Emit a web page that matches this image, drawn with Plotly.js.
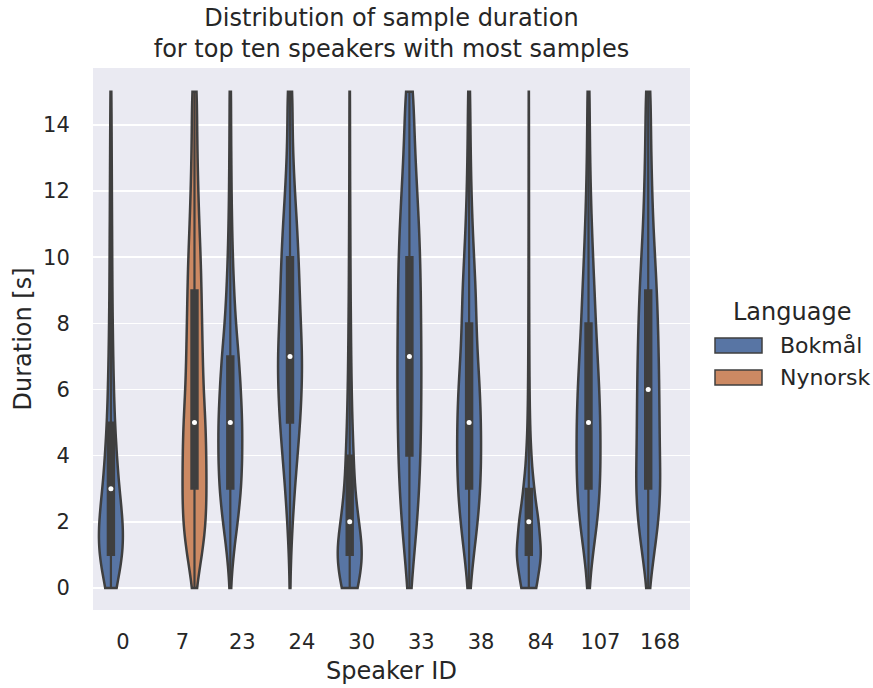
<!DOCTYPE html>
<html>
<head>
<meta charset="utf-8">
<script src="https://cdn.plot.ly/plotly-3.0.1.min.js"></script>
<style>html,body{margin:0;padding:0;background:#ffffff;}</style>
</head>
<body>
<div id="chart" style="width:873px;height:688px;"></div>
<script>
// ---------------- data ----------------
const speakers  = ['0', '7', '23', '24', '30', '33', '38', '84', '107', '168'];
const languages = ['Bokmål', 'Nynorsk', 'Bokmål', 'Bokmål', 'Bokmål', 'Bokmål', 'Bokmål', 'Bokmål', 'Bokmål', 'Bokmål'];
const languageOrder = ['Bokmål', 'Nynorsk'];
// durations in whole seconds (0..15) and estimated number of samples at each duration
const durationBins = [0, 1, 2, 3, 4, 5, 6, 7, 8, 9, 10, 11, 12, 13, 14, 15];
const counts_0   = [150, 400, 380, 250, 180, 120,  90,  70,  55,  45,  40,  35,  30,  25,  20,  15];
const counts_7   = [ 20, 160, 240, 240, 235, 225, 175, 165, 150, 140, 125,  95,  75,  60,  50,  55];
const counts_23  = [ 10,  60, 150, 220, 240, 240, 210, 170, 110,  75,  50,  35,  25,  20,  15,  15];
const counts_24  = [  5,  20,  50,  90, 140, 190, 220, 230, 200, 180, 160, 130,  90,  60,  45,  50];
const counts_30  = [280, 480, 300, 170, 130,  90,  65,  50,  40,  30,  25,  20,  15,  12,  10,   8];
const counts_33  = [ 30,  80, 130, 165, 185, 195, 200, 200, 195, 190, 180, 160, 130, 100,  80,  70];
const counts_38  = [ 20,  90, 170, 220, 235, 230, 210, 165, 140, 130,  95,  65,  45,  32,  25,  20];
const counts_84  = [250, 420, 320, 170,  80,  40,  25,  18,  14,  11,   9,   7,   6,   5,   4,   3];
const counts_107 = [ 15,  80, 180, 230, 240, 235, 215, 180, 145, 120,  90,  65,  45,  32,  25,  22];
const counts_168 = [ 20, 110, 200, 240, 220, 215, 210, 200, 185, 165, 130,  95,  75,  60,  50,  50];
const speakerCounts = [counts_0, counts_7, counts_23, counts_24, counts_30, counts_33, counts_38, counts_84, counts_107, counts_168];

// ---------------- styles ----------------
const langColors = {'Bokmål': '#5875a4', 'Nynorsk': '#cc8963'};
const edgeColor = '#3f3f3f';
const textColor = '#262626';
const fontFamily = 'DejaVu Sans, Verdana, sans-serif';

// expand counts to individual samples
function expand(counts) {
  const out = [];
  counts.forEach((c, i) => { for (let k = 0; k < c; k++) out.push(durationBins[i]); });
  return out;
}
function median(arr) {
  const s = arr.slice().sort((a, b) => a - b);
  const pos = (s.length - 1) * 0.5;
  const lo = Math.floor(pos), hi = Math.ceil(pos);
  return s[lo] + (s[hi] - s[lo]) * (pos - lo);
}
// Scott's rule bandwidth (as used by seaborn's violinplot)
function scottBandwidth(arr) {
  const n = arr.length;
  const m = arr.reduce((a, b) => a + b, 0) / n;
  const sd = Math.sqrt(arr.reduce((a, b) => a + (b - m) * (b - m), 0) / (n - 1));
  return sd * Math.pow(n, -0.2);
}

const traces = [];
const medX = {'Bokmål': [], 'Nynorsk': []};
const medY = {'Bokmål': [], 'Nynorsk': []};
speakers.forEach((sp, i) => {
  const lang = languages[i];
  const samples = expand(speakerCounts[i]);
  traces.push({
    type: 'violin', name: lang,
    x: samples.map(() => sp), y: samples,
    offsetgroup: lang, legendgroup: lang, scalegroup: 'sp' + sp,
    scalemode: 'width', spanmode: 'hard', points: false,
    bandwidth: scottBandwidth(samples),
    fillcolor: langColors[lang],
    line: {color: edgeColor, width: 2.5},
    box: {visible: true, width: 0.26, fillcolor: edgeColor, line: {color: edgeColor, width: 2.2}},
    meanline: {visible: false},
    hoverinfo: 'skip', showlegend: false
  });
  medX[lang].push(sp);
  medY[lang].push(median(samples));
});
languageOrder.forEach(lang => {
  traces.push({
    type: 'scatter', mode: 'markers', x: medX[lang], y: medY[lang],
    orientation: 'v', offsetgroup: lang,
    marker: {color: '#ffffff', size: 5, line: {width: 0}},
    hoverinfo: 'skip', showlegend: false
  });
});

// legend (drawn as shapes + text, seaborn style)
const L = 93, R = 690, T = 68, B = 610;
const px2x = p => (p - L) / (R - L);
const px2y = p => (B - p) / (B - T);
const shapes = [];
const annotations = [{
  text: 'Language', xref: 'paper', yref: 'paper', x: px2x(792), y: px2y(312),
  xanchor: 'center', yanchor: 'middle', showarrow: false,
  font: {family: fontFamily, size: 24, color: textColor}
}];
languageOrder.forEach((lang, k) => {
  const cy = 345.5 + 32 * k;
  shapes.push({type: 'rect', xref: 'paper', yref: 'paper',
    x0: px2x(715), x1: px2x(762), y0: px2y(cy + 7.5), y1: px2y(cy - 7.5),
    fillcolor: langColors[lang], line: {color: edgeColor, width: 1.5}});
  annotations.push({text: lang, xref: 'paper', yref: 'paper', x: px2x(778), y: px2y(cy),
    xanchor: 'left', yanchor: 'middle', showarrow: false,
    font: {family: fontFamily, size: 22, color: textColor}});
});

const layout = {
  width: 873, height: 688,
  margin: {l: L, r: 873 - R, t: T, b: 688 - B, pad: 0},
  paper_bgcolor: '#ffffff', plot_bgcolor: '#eaeaf2',
  font: {family: fontFamily, color: textColor, size: 21},
  title: {text: 'Distribution of sample duration<br>for top ten speakers with most samples',
          font: {family: fontFamily, size: 24, color: textColor},
          x: 0.5, xref: 'paper', xanchor: 'center', y: 0.962, yref: 'container', yanchor: 'top'},
  showlegend: false,
  violinmode: 'group', violingap: 0.2, violingroupgap: 0,
  scattermode: 'group', scattergap: 0.2,
  xaxis: {type: 'category', categoryorder: 'array', categoryarray: speakers,
          showgrid: false, zeroline: false, showline: false,
          ticks: 'outside', ticklen: 13, tickcolor: 'rgba(0,0,0,0)',
          tickfont: {family: fontFamily, size: 21, color: textColor},
          title: {text: 'Speaker ID', font: {family: fontFamily, size: 24, color: textColor}, standoff: 8}},
  yaxis: {range: [-0.665, 15.72], tickvals: [0, 2, 4, 6, 8, 10, 12, 14],
          showgrid: true, gridcolor: '#ffffff', gridwidth: 1.6,
          zeroline: false, showline: false,
          ticks: 'outside', ticklen: 18, tickcolor: 'rgba(0,0,0,0)',
          tickfont: {family: fontFamily, size: 21, color: textColor},
          title: {text: 'Duration [s]', font: {family: fontFamily, size: 24, color: textColor}, standoff: 4}},
  shapes: shapes, annotations: annotations
};

Plotly.newPlot('chart', traces, layout, {displayModeBar: false, staticPlot: true});
</script>
</body>
</html>
